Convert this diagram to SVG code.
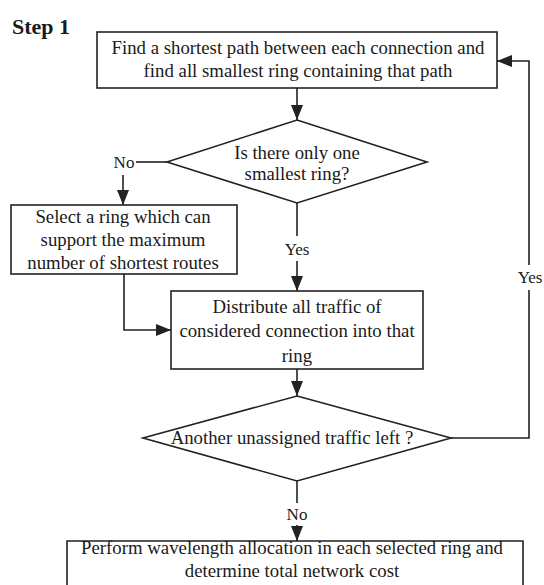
<svg xmlns="http://www.w3.org/2000/svg" width="544" height="585" viewBox="0 0 544 585">
  <style>
    .box { fill: none; stroke: #222; stroke-width: 1.6; }
    .line { fill: none; stroke: #222; stroke-width: 1.6; }
    .arrow { marker-end: url(#head); }
    text { font-family: "Liberation Serif", "Times New Roman", serif; font-size: 18.8px; fill: #1a1a1a; text-anchor: middle; }
    .title { font-size: 22px; font-weight: bold; text-anchor: start; }
    .lbl { font-size: 17px; }
  </style>
  <defs>
    <marker id="head" markerUnits="userSpaceOnUse" markerWidth="15" markerHeight="12" refX="15" refY="6" orient="auto">
      <path d="M0,0 L15,6 L0,12 z" fill="#222"/>
    </marker>
  </defs>

  <rect width="544" height="585" fill="#fff"/>

  <text class="title" x="12" y="34">Step 1</text>

  <g id="find-path">
    <rect class="box" x="97" y="32" width="400" height="56"/>
    <text x="298" y="54">Find a shortest path between each connection and</text>
    <text x="298" y="77">find all smallest ring containing that path</text>
  </g>

  <g id="one-ring">
    <polygon class="box" points="297,120 427,162 297,203 167,162"/>
    <text x="297" y="159">Is there only one</text>
    <text x="297" y="180">smallest ring?</text>
  </g>

  <g id="select-ring">
    <rect class="box" x="11" y="205" width="226" height="69"/>
    <text x="123" y="223">Select a ring which can</text>
    <text x="123" y="246">support the maximum</text>
    <text x="123" y="269">number of shortest routes</text>
  </g>

  <g id="distribute">
    <rect class="box" x="171" y="291" width="252" height="78"/>
    <text x="297" y="313">Distribute all traffic of</text>
    <text x="297" y="337">considered connection into that</text>
    <text x="297" y="362">ring</text>
  </g>

  <g id="traffic-left">
    <polygon class="box" points="297,396 451,438 297,481 143,438"/>
    <text x="292" y="444">Another unassigned traffic left ?</text>
  </g>

  <g id="allocate">
    <polyline class="box" points="67,592 67,541 523,541 523,592"/>
    <text x="292" y="554">Perform wavelength allocation in each selected ring and</text>
    <text x="292" y="577">determine total network cost</text>
  </g>

  <g id="connectors">
    <line class="line arrow" x1="297" y1="88" x2="297" y2="120"/>
    <!-- No branch -->
    <line class="line" x1="136" y1="162" x2="167" y2="162"/>
    <text class="lbl" x="124" y="168">No</text>
    <line class="line arrow" x1="123" y1="175" x2="123" y2="205"/>
    <!-- Yes branch -->
    <line class="line" x1="297" y1="203" x2="297" y2="236"/>
    <text class="lbl" x="297" y="255">Yes</text>
    <line class="line arrow" x1="297" y1="261" x2="297" y2="291"/>
    <!-- select to distribute -->
    <polyline class="line arrow" points="124,274 124,330 171,330"/>
    <line class="line arrow" x1="297" y1="369" x2="297" y2="396"/>
    <!-- loop back -->
    <polyline class="line" points="451,438 529,438 529,290"/>
    <text class="lbl" x="530" y="283">Yes</text>
    <polyline class="line arrow" points="529,265 529,61 497,61"/>
    <!-- final -->
    <line class="line" x1="297" y1="481" x2="297" y2="503"/>
    <text class="lbl" x="297" y="520">No</text>
    <line class="line arrow" x1="297" y1="525" x2="297" y2="541"/>
  </g>
</svg>
